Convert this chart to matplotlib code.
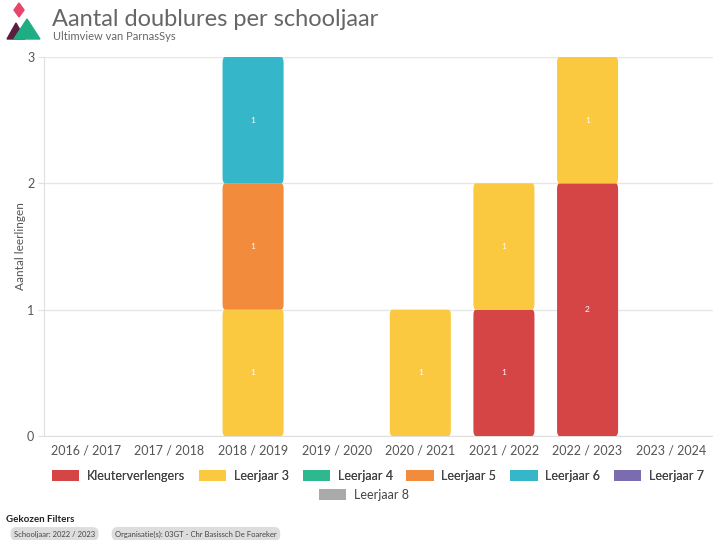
import numpy as np
import matplotlib.pyplot as plt
from matplotlib.patches import FancyBboxPatch, Polygon, Rectangle

plt.rcParams['font.family'] = ['Lato', 'DejaVu Sans']

# =====================================================
# Données
# =====================================================
schooljaren = ['2016 / 2017', '2017 / 2018', '2018 / 2019', '2019 / 2020',
               '2020 / 2021', '2021 / 2022', '2022 / 2023', '2023 / 2024']
series_names = ['Kleuterverlengers', 'Leerjaar 3', 'Leerjaar 4', 'Leerjaar 5',
                'Leerjaar 6', 'Leerjaar 7', 'Leerjaar 8']
series_colors = ['#D64545', '#FAC93F', '#2DB88F', '#F28C3C',
                 '#36B7C9', '#7B6BB0', '#AAAAAA']
kleuterverlengers = [0, 0, 0, 0, 0, 1, 2, 0]
leerjaar3 = [0, 0, 1, 0, 1, 1, 1, 0]
leerjaar4 = [0, 0, 0, 0, 0, 0, 0, 0]
leerjaar5 = [0, 0, 1, 0, 0, 0, 0, 0]
leerjaar6 = [0, 0, 1, 0, 0, 0, 0, 0]
leerjaar7 = [0, 0, 0, 0, 0, 0, 0, 0]
leerjaar8 = [0, 0, 0, 0, 0, 0, 0, 0]
series_values = [kleuterverlengers, leerjaar3, leerjaar4, leerjaar5,
                 leerjaar6, leerjaar7, leerjaar8]
filters = ['Schooljaar: 2022 / 2023', 'Organisatie(s): 03GT - Chr Basissch De Foareker']

# =====================================================
# Figure
# =====================================================
W, H = 713, 540
fig = plt.figure(figsize=(W / 100, H / 100), dpi=100)
ax = fig.add_axes([44 / W, 1 - 436 / H, (713 - 44) / W, (436 - 57) / H])

x = np.arange(len(schooljaren))
bottom = np.zeros(len(schooljaren))
bar_w = 0.73
for name, vals, col in zip(series_names, series_values, series_colors):
    vals = np.array(vals, dtype=float)
    for xi, v, b in zip(x, vals, bottom):
        if v <= 0:
            continue
        ax.add_patch(FancyBboxPatch((xi - bar_w / 2, b), bar_w, v,
                                    boxstyle="round,pad=0,rounding_size=0.03",
                                    mutation_aspect=0.04 / 0.03 * 3 / 8 * 3,
                                    facecolor=col, edgecolor='none', zorder=3))
        ax.text(xi, b + v / 2, f"{int(v)}", color='white', fontsize=6,
                ha='center', va='center', zorder=4)
    bottom += vals

ax.set_xlim(-0.5, len(schooljaren) - 0.5)
ax.set_ylim(0, 3)
ax.set_yticks([0, 1, 2, 3])
ax.set_xticks(x)
ax.set_xticklabels(schooljaren, fontsize=9, color='#555555')
ax.tick_params(axis='y', labelsize=9, labelcolor='#555555', length=4,
               color='#E0E0E0', pad=3)
ax.tick_params(axis='x', length=0, pad=6)
ax.grid(axis='y', color='#E6E6E6', linewidth=1, zorder=0)
for s in ['top', 'right']:
    ax.spines[s].set_visible(False)
ax.spines['left'].set_color('#E0E0E0')
ax.spines['bottom'].set_color('#E0E0E0')
ax.set_ylabel('Aantal leerlingen', fontsize=8.5, color='#555555', labelpad=1)

# Titre et sous-titre
fig.text(52 / W, 1 - 19 / H, 'Aantal doublures per schooljaar', fontsize=17,
         color='#666666', va='center', ha='left')
fig.text(53 / W, 1 - 36 / H, 'Ultimview van ParnasSys', fontsize=8,
         color='#666666', va='center', ha='left')

# Logo
lax = fig.add_axes([0, 1 - 42 / H, 44 / W, 42 / H])
lax.set_xlim(0, 44)
lax.set_ylim(42, 0)
lax.axis('off')
lax.add_patch(Polygon([[7, 39], [16, 23], [25, 39]], closed=True, color='#5B1F3E'))
lax.add_patch(Polygon([[14, 39], [27, 19], [40, 39]], closed=True, color='#1FAE84'))
lax.add_patch(Polygon([[19, 3], [24, 10], [19, 17], [14, 10]], closed=True, color='#E8456B'))

# Légende (deux rangées)
handles = [Rectangle((0, 0), 1, 1, facecolor=c, edgecolor='none') for c in series_colors]
leg_kw = dict(loc='center', frameon=False, fontsize=9, handlelength=2.2,
              handleheight=1.0, columnspacing=1.1, handletextpad=0.6,
              labelcolor='#444444', borderpad=0, borderaxespad=0)
leg1 = fig.legend(handles[:6], series_names[:6],
                  bbox_to_anchor=(0.53, 1 - 476 / H), ncol=6, **leg_kw)
fig.add_artist(leg1)
fig.legend(handles[6:], series_names[6:],
           bbox_to_anchor=(0.51, 1 - 495 / H), ncol=1, **leg_kw)

# Filtres
fig.text(6 / W, 1 - 520 / H, 'Gekozen Filters', fontsize=7, color='#222222',
         fontweight='bold', va='center', ha='left')
xpos = 6
for f in filters:
    t = fig.text((xpos + 8) / W, 1 - 534 / H, f, fontsize=5.5, color='#444444',
                 va='center', ha='left',
                 bbox=dict(boxstyle='round,pad=0.45,rounding_size=0.8',
                           facecolor='#DDDDDD', edgecolor='none'))
    fig.canvas.draw()
    bb = t.get_window_extent()
    xpos = bb.x1 + 12

fig.savefig('out.png', dpi=100)
